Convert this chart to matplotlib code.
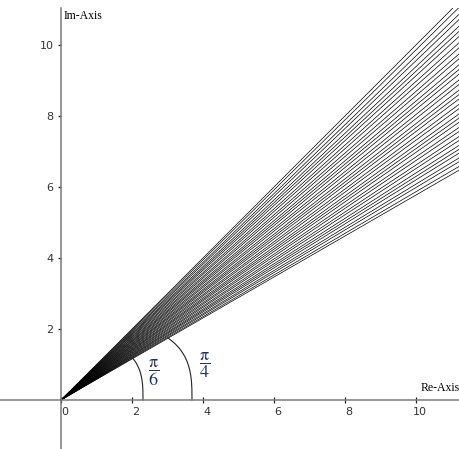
import matplotlib

matplotlib.use("Agg")
import matplotlib.pyplot as plt
import numpy as np
from matplotlib.transforms import ScaledTranslation

ray_angles = [30.0, 30.4, 30.9, 31.3, 31.8, 32.2, 32.6, 33.1, 33.5, 34.0,
              34.4, 34.9, 35.3, 35.7, 36.2, 36.6, 37.1, 37.5, 37.9, 38.4,
              38.8, 39.3, 39.7, 40.1, 40.6, 41.0, 41.5, 41.9, 42.4, 42.8,
              43.2, 43.7, 44.1, 44.6, 45.0]
ray_length = 20.0

xticks = [0, 2, 4, 6, 8, 10]
yticks = [2, 4, 6, 8, 10]

# angle markers: label, x-axis crossing, label position
arc_labels = [r"$\dfrac{\mathrm{\pi}}{6}$", r"$\dfrac{\mathrm{\pi}}{4}$"]
arc_radii = [2.31, 3.69]
arc_heights = [1.70, 2.27]
label_xy = [(2.62, 0.76), (4.03, 0.98)]

xlim = (-1.718, 11.239)
ylim = (-1.380, 11.04)

fig = plt.figure(figsize=(4.6, 4.49), dpi=100)
ax = fig.add_axes([0, 0, 1, 441 / 449])
ax.set_xlim(*xlim)
ax.set_ylim(*ylim)

for a in ray_angles:
    t = np.deg2rad(a)
    ax.plot([0, ray_length * np.cos(t)], [0, ray_length * np.sin(t)],
            color="black", lw=0.5)

# squarish angle arcs, stopped on the pi/6 ray
for r, b in zip(arc_radii, arc_heights):
    y = np.linspace(0, b, 200)
    x = r * (1 - (y / b) ** 3) ** (1 / 3)
    keep = y <= x * np.tan(np.deg2rad(30.3))
    ax.plot(x[keep], y[keep], color="#222222", lw=0.8)

for lab, (lx, ly) in zip(arc_labels, label_xy):
    ax.text(lx, ly, lab, color="#1c3466", fontsize=13, ha="center", va="center",
            math_fontfamily="stix")

for s in ["top", "right"]:
    ax.spines[s].set_visible(False)
ax.spines["left"].set_position("zero")
ax.spines["bottom"].set_position("zero")
for s in ["left", "bottom"]:
    ax.spines[s].set_color("#7a7a7a")
    ax.spines[s].set_linewidth(1.1)

ax.set_xticks(xticks)
ax.set_yticks(yticks)
ax.tick_params(axis="x", direction="inout", length=4, width=0.9, color="#222222",
               labelsize=8, labelcolor="#333333", pad=3)
ax.tick_params(axis="y", direction="out", length=2.5, width=0.9, color="#222222",
               labelsize=8, labelcolor="#333333", pad=3)
shift = ScaledTranslation(4 / 100, 0, fig.dpi_scale_trans)
for lab in ax.get_xticklabels():
    lab.set_transform(lab.get_transform() + shift)

ax.text(0.08, 10.82, "Im-Axis", fontsize=8.5, family="Liberation Serif",
        ha="left", va="center")
ax.text(11.22, 0.33, "Re-Axis", fontsize=8.5, family="Liberation Serif",
        ha="right", va="center")

fig.savefig("out.png", dpi=100)
